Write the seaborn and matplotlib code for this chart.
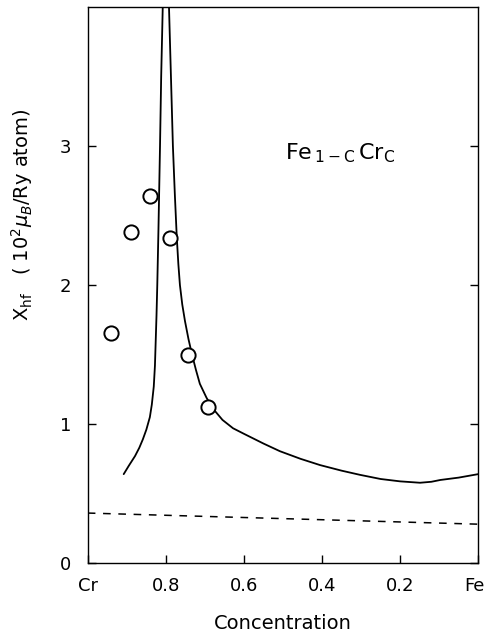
import numpy as np
import pandas as pd
import matplotlib
matplotlib.use("Agg")
import matplotlib.pyplot as plt
import matplotlib.transforms as mtransforms
import seaborn as sns

# ---- data ----
# measured points (circles)
meas_c = [0.941, 0.890, 0.841, 0.790, 0.744, 0.692]
meas_chi = [1.655, 2.38, 2.64, 2.34, 1.50, 1.12]

# theory, Cr-rich branch (diverges near c~0.80)
left_c = [0.908, 0.895, 0.879, 0.868, 0.859, 0.850, 0.841, 0.836, 0.831, 0.828,
          0.826, 0.824, 0.822, 0.819, 0.817, 0.815, 0.812, 0.808, 0.806]
left_chi = [0.64, 0.70, 0.77, 0.83, 0.89, 0.96, 1.05, 1.14, 1.27, 1.42,
            1.60, 1.78, 2.00, 2.40, 2.70, 3.00, 3.50, 4.00, 4.30]

# theory, Fe-rich branch
right_c = [0.794, 0.792, 0.787, 0.782, 0.777, 0.772, 0.768, 0.764, 0.758, 0.751,
           0.742, 0.733, 0.723, 0.713, 0.696, 0.679, 0.655, 0.628, 0.600, 0.550,
           0.508, 0.455, 0.405, 0.350, 0.303, 0.250, 0.200, 0.149, 0.120, 0.097,
           0.050, 0.0]
right_chi = [4.30, 4.00, 3.50, 3.00, 2.65, 2.34, 2.15, 2.00, 1.86, 1.74,
             1.61, 1.50, 1.39, 1.29, 1.19, 1.11, 1.03, 0.97, 0.93, 0.86,
             0.805, 0.75, 0.705, 0.665, 0.635, 0.605, 0.588, 0.578, 0.585, 0.598,
             0.615, 0.64]

# dashed line (other contribution)
dash_c = [1.0, 0.5, 0.0]
dash_chi = [0.36, 0.32, 0.28]

xtick_pos = [1.0, 0.8, 0.6, 0.4, 0.2, 0.0]
xtick_labels = ["Cr", "0.8", "0.6", "0.4", "0.2", "Fe"]
ytick_pos = [0, 1, 2, 3]

# ---- plot ----
sns.set_style("ticks")
plt.rcParams["font.family"] = ["DejaVu Sans"]
plt.rcParams["mathtext.fontset"] = "dejavusans"
plt.rcParams["text.color"] = "black"
plt.rcParams["axes.labelcolor"] = "black"

fig = plt.figure(figsize=(4.85, 6.37), dpi=100)
ax = fig.add_axes([0.181, 0.116, 0.805, 0.873])

df_left = pd.DataFrame({"c": left_c, "chi": left_chi})
df_right = pd.DataFrame({"c": right_c, "chi": right_chi})
df_dash = pd.DataFrame({"c": dash_c, "chi": dash_chi})
df_meas = pd.DataFrame({"c": meas_c, "chi": meas_chi})

sns.lineplot(data=df_left, x="c", y="chi", sort=False, color="black", lw=1.3, ax=ax)
sns.lineplot(data=df_right, x="c", y="chi", sort=False, color="black", lw=1.3, ax=ax)
ax.plot(df_dash["c"], df_dash["chi"], color="black", lw=1.1, dashes=(5, 5))
sns.scatterplot(data=df_meas, x="c", y="chi", marker="o", s=105, facecolor="white",
                edgecolor="black", linewidth=1.4, ax=ax, zorder=5)

ax.set_xlim(1.0, 0.0)
ax.set_ylim(0, 4.0)
ax.set_xticks(xtick_pos)
ax.set_xticklabels(xtick_labels)
ax.set_yticks(ytick_pos)
ax.tick_params(direction="in", length=6, width=1, labelsize=13, pad=12,
               right=True, top=False, colors="black")
ax.tick_params(axis="x", pad=10)
for s in ax.spines.values():
    s.set_linewidth(1.0)
    s.set_color("black")

# keep the "Fe" label inside the canvas
last = ax.get_xticklabels()[-1]
last.set_transform(last.get_transform() +
                   mtransforms.ScaledTranslation(-4 / 100, 0, fig.dpi_scale_trans))

ax.set_xlabel("Concentration", fontsize=14, labelpad=14, color="black")
ax.set_ylabel(r"X$_{\rm hf}$   ( 10$^2\mu_B$/Ry atom)", fontsize=14, color="black")
ax.yaxis.set_label_coords(-0.135, 0.626)

ax.text(0.495, 2.95, r"Fe$_{\,\rm 1-C}\,$Cr$_{\rm C}$", fontsize=16,
        ha="left", va="center", color="black")

fig.savefig("out.png", dpi=100)
